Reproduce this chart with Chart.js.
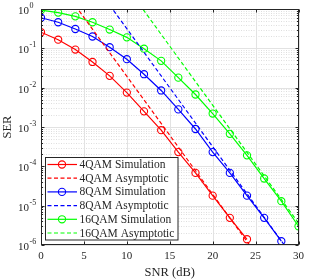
<!DOCTYPE html>
<html>
<head>
<meta charset="utf-8">
<script src="https://cdn.jsdelivr.net/npm/chart.js@4/dist/chart.umd.min.js"></script>
<style>
  html, body { margin: 0; padding: 0; background: #fff; }
  canvas { display: block; }
</style>
</head>
<body>
<canvas id="graph" width="309" height="280"></canvas>
<script>
// values
var labels = ['4QAM Simulation', '4QAM Asymptotic', '8QAM Simulation', '8QAM Asymptotic', '16QAM Simulation', '16QAM Asymptotic'];
var colors = ['#ff0000', '#ff0000', '#0000ff', '#0000ff', '#00ff00', '#00ff00'];

var snr4 = [0, 2, 4, 6, 8, 10, 12, 14, 16, 18, 20, 22, 24];
var ser4Sim = [0.257, 0.166, 0.093, 0.045, 0.020, 0.0075, 0.0025, 8.3e-4, 2.3e-4, 6.8e-5, 1.8e-5, 4.9e-6, 1.4e-6];
var snr4Asym = [4, 26];
var ser4Asym = [1.22, 3.1e-7];

var snr8 = [0, 2, 4, 6, 8, 10, 12, 14, 16, 18, 20, 22, 24, 26, 28];
var ser8Sim = [0.60, 0.46, 0.31, 0.20, 0.107, 0.053, 0.022, 0.0085, 0.0028, 8.9e-4, 2.3e-4, 6.8e-5, 1.8e-5, 4.9e-6, 1.25e-6];
var snr8Asym = [8, 30];
var ser8Asym = [1.25, 3.2e-7];

var snr16 = [0, 2, 4, 6, 8, 10, 12, 14, 16, 18, 20, 22, 24, 26, 28, 30];
var ser16Sim = [0.94, 0.81, 0.65, 0.46, 0.30, 0.19, 0.098, 0.048, 0.018, 0.0067, 0.0022, 6.7e-4, 1.9e-4, 4.9e-5, 1.3e-5, 3.0e-6];
var snr16Asym = [11, 30];
var ser16Asym = [1.8, 3.6e-6];

var xTicks = [0, 5, 10, 15, 20, 25, 30];
var yExps = [0, -1, -2, -3, -4, -5, -6];

var serif = '"Liberation Serif", "Times New Roman", serif';
var ink = '#262626';

function toPoints(xs, ys) {
    var pts = [];
    for (var i = 0; i < xs.length; i++) pts.push({ x: xs[i], y: ys[i] });
    return pts;
}

var xs = [snr4, snr4Asym, snr8, snr8Asym, snr16, snr16Asym];
var ys = [ser4Sim, ser4Asym, ser8Sim, ser8Asym, ser16Sim, ser16Asym];
var datasets = [];
for (var i = 0; i < xs.length; i++) {
    var sim = (i % 2 == 0);
    datasets.push({
        label: labels[i],
        data: toPoints(xs[i], ys[i]),
        showLine: true,
        borderColor: colors[i],
        backgroundColor: colors[i],
        borderWidth: 1.2,
        borderDash: sim ? [] : [4, 2.5],
        pointRadius: sim ? 3.6 : 0,
        pointBorderWidth: 1.1,
        pointBorderColor: colors[i],
        pointBackgroundColor: 'rgba(0,0,0,0)',
        tension: 0
    });
}

var frame = {
    id: 'frame',
    beforeDatasetsDraw: function (chart) {
        var c = chart.ctx, a = chart.chartArea;
        var x = chart.scales.x, y = chart.scales.y;
        c.save();
        // minor grid (dotted)
        c.strokeStyle = 'rgba(0,0,0,0.13)';
        c.lineWidth = 1;
        c.setLineDash([1, 1.5]);
        for (var e = -6; e < 0; e++) {
            for (var m = 2; m <= 9; m++) {
                var py = Math.round(y.getPixelForValue(m * Math.pow(10, e))) + 0.5;
                c.beginPath(); c.moveTo(a.left, py); c.lineTo(a.right, py); c.stroke();
            }
        }
        // major grid
        c.setLineDash([]);
        c.strokeStyle = '#e2e2e2';
        xTicks.forEach(function (t) {
            var px = Math.round(x.getPixelForValue(t)) + 0.5;
            c.beginPath(); c.moveTo(px, a.top); c.lineTo(px, a.bottom); c.stroke();
        });
        yExps.forEach(function (e) {
            var py = Math.round(y.getPixelForValue(Math.pow(10, e))) + 0.5;
            c.beginPath(); c.moveTo(a.left, py); c.lineTo(a.right, py); c.stroke();
        });
        c.restore();
    },
    afterDraw: function (chart) {
        var c = chart.ctx, a = chart.chartArea;
        var x = chart.scales.x, y = chart.scales.y;
        c.save();
        c.strokeStyle = ink;
        c.lineWidth = 1;
        var L = Math.round(a.left) + 0.5, R = Math.round(a.right) - 0.5;
        var T = Math.round(a.top) + 0.5, B = Math.round(a.bottom) - 0.5;
        c.strokeRect(L, T, R - L, B - T);
        // ticks pointing inward
        c.beginPath();
        xTicks.forEach(function (t) {
            var px = Math.round(x.getPixelForValue(t)) + 0.5;
            c.moveTo(px, B); c.lineTo(px, B - 3);
            c.moveTo(px, T); c.lineTo(px, T + 3);
        });
        for (var e = -6; e <= 0; e++) {
            for (var m = 1; m <= 9; m++) {
                if (e == 0 && m > 1) break;
                var py = Math.round(y.getPixelForValue(m * Math.pow(10, e))) + 0.5;
                var len = m == 1 ? 3 : 1.5;
                c.moveTo(L, py); c.lineTo(L + len, py);
                c.moveTo(R, py); c.lineTo(R - len, py);
            }
        }
        c.stroke();

        // y tick labels 10^k
        c.fillStyle = ink;
        c.textBaseline = 'middle';
        yExps.forEach(function (e) {
            var py = y.getPixelForValue(Math.pow(10, e));
            c.font = '11px ' + serif;
            c.textAlign = 'right';
            c.fillText('10', 29, py + 2);
            c.font = '8px ' + serif;
            c.textAlign = 'left';
            c.fillText(e == 0 ? '0' : '-' + (-e), 29.5, py - 3);
        });

        // y title
        c.save();
        c.translate(8, (a.top + a.bottom) / 2);
        c.rotate(-Math.PI / 2);
        c.textAlign = 'center';
        c.font = '12.5px ' + serif;
        c.fillText('SER', 0, 0);
        c.restore();

        // legend
        var lx = 45.5, ly = 157.5, lw = 132.5, lh = 82.5;
        c.fillStyle = '#fff';
        c.fillRect(lx, ly, lw, lh);
        c.strokeStyle = ink;
        c.lineWidth = 1;
        c.strokeRect(lx, ly, lw, lh);
        c.font = '11.5px ' + serif;
        c.textAlign = 'left';
        chart.data.datasets.forEach(function (ds, i) {
            var ry = 164.5 + i * 13.7;
            c.strokeStyle = ds.borderColor;
            c.lineWidth = ds.borderWidth;
            c.setLineDash(ds.borderDash);
            c.beginPath(); c.moveTo(47.5, ry); c.lineTo(77, ry); c.stroke();
            c.setLineDash([]);
            if (ds.pointRadius > 0) {
                c.lineWidth = ds.pointBorderWidth;
                c.beginPath(); c.arc(62, ry, ds.pointRadius, 0, Math.PI * 2); c.stroke();
            }
            c.fillStyle = ink;
            c.fillText(ds.label, 79.5, ry + 0.5);
        });
        c.restore();
    }
};

var chart = new Chart(document.getElementById('graph'), {
    type: 'scatter',
    data: { datasets: datasets },
    options: {
        responsive: false,
        animation: false,
        devicePixelRatio: 1,
        layout: { padding: { top: 9, right: 7, left: 0, bottom: 0 } },
        plugins: { legend: { display: false }, tooltip: { enabled: false } },
        scales: {
            x: {
                type: 'linear',
                min: 0,
                max: 30,
                grid: { display: false, drawTicks: false },
                border: { display: false },
                ticks: {
                    stepSize: 5,
                    color: ink,
                    font: { family: serif, size: 11 },
                    padding: 5,
                    maxRotation: 0
                },
                title: {
                    display: true,
                    text: 'SNR (dB)',
                    color: ink,
                    font: { family: serif, size: 12.5 },
                    padding: { top: 0, bottom: 0 }
                },
                afterFit: function (s) { s.height = 35; }
            },
            y: {
                type: 'logarithmic',
                min: 1e-6,
                max: 1,
                grid: { display: false, drawTicks: false },
                border: { display: false },
                ticks: { display: false },
                afterFit: function (s) { s.width = 41; }
            }
        }
    },
    plugins: [frame]
});
</script>
</body>
</html>
